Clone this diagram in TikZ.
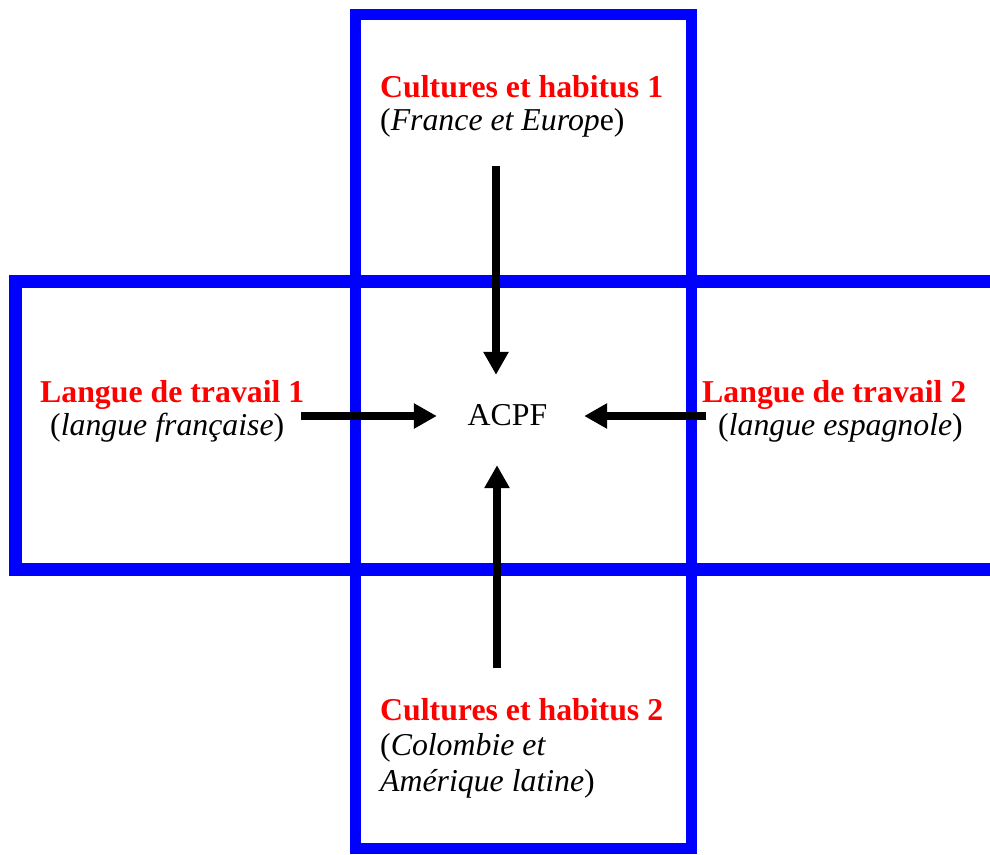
\documentclass[tikz,border=0pt]{standalone}
\usepackage{fontspec}
\setmainfont{Liberation Serif}
\usetikzlibrary{arrows.meta}
\definecolor{boxblue}{RGB}{0,0,255}
\definecolor{titlered}{RGB}{255,0,0}
\begin{document}
\begin{tikzpicture}[x=1pt,y=-1pt,
  frame/.style={draw=boxblue},
  title/.style={anchor=base west,inner sep=0pt,text=titlered,font=\fontsize{31.8}{35}\selectfont\bfseries},
  sub/.style={anchor=base west,inner sep=0pt,text=black,font=\fontsize{31.8}{35}\selectfont},
  arr/.style={draw=black,line width=8pt,-{Triangle[length=23pt,width=24pt]}}]
\useasboundingbox (0,0) rectangle (990,854);
\clip (0,0) rectangle (990,854);
% frames
\draw[frame,line width=11pt] (355.5,14.5) rectangle (691,848);
\draw[frame,line width=13pt] (15,281.5) rectangle (1005,569.5);
% centre
\node[inner sep=0pt,minimum width=147pt,minimum height=90pt] (hub) at (510.5,420) {};
\node[sub,anchor=base] (acpf) at (507.5,425) {ACPF};
% labels
\node[title] (c1) at (380,97) {Cultures et habitus 1};
\node[sub] (c1s) at (380,130.5) {(\textit{France et Europ}e)};
\node[title] (l1) at (40,402) {Langue de travail 1};
\node[sub] (l1s) at (50,435) {(\textit{langue française})};
\node[title] (l2) at (702,402) {Langue de travail 2};
\node[sub] (l2s) at (718,435) {(\textit{langue espagnole})};
\node[title] (c2) at (380,720) {Cultures et habitus 2};
\node[sub] (c2s) at (380,755) {(\textit{Colombie et}};
\node[sub] (c2t) at (380,791) {\textit{Amérique latine})};
% arrow tails
\coordinate (ts) at (496,166);
\coordinate (bs) at (497,668);
\coordinate (ls) at (301,416);
\coordinate (rs) at (706,416);
\draw[arr] (ts) -- (ts |- hub.north);
\draw[arr] (bs) -- (bs |- hub.south);
\draw[arr] (ls) -- (ls -| hub.west);
\draw[arr] (rs) -- (rs -| hub.east);
\end{tikzpicture}
\end{document}
